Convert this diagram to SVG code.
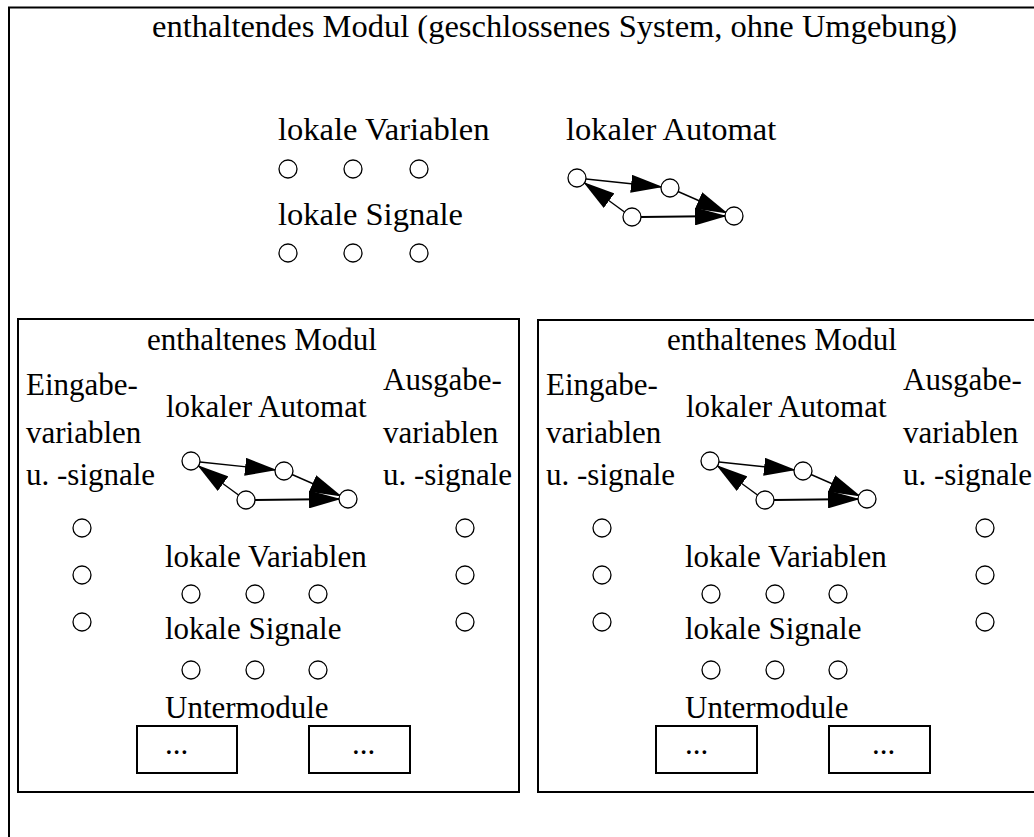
<svg xmlns="http://www.w3.org/2000/svg" xmlns:xlink="http://www.w3.org/1999/xlink" width="1034" height="837" viewBox="0 0 1034 837">
  <style>
    .frame { fill: none; stroke: #000; stroke-width: 2; }
    .state { fill: #fff; stroke: #000; stroke-width: 1.3; }
    .edge { fill: none; stroke: #000; stroke-width: 1.4; }
    .big { font-family: "Liberation Serif", "Times New Roman", serif; font-size: 32.5px; fill: #000; }
    .lbl { font-family: "Liberation Serif", "Times New Roman", serif; font-size: 31px; fill: #000; }
  </style>
  <defs>
    <marker id="arrow" markerUnits="userSpaceOnUse" markerWidth="32" markerHeight="18" refX="31" refY="9" orient="auto" viewBox="0 0 32 18">
      <path d="M0,0 L32,9 L0,18 Z" fill="#000"/>
    </marker>
    <!-- small state machine: four states, four transitions; origin = first state -->
    <g id="automat">
      <g class="transitions">
        <line class="edge" x1="9" y1="1" x2="85" y2="9" marker-end="url(#arrow)"/>
        <line class="edge" x1="101" y1="13.5" x2="150" y2="35" marker-end="url(#arrow)"/>
        <line class="edge" x1="47.5" y1="34" x2="7" y2="4.5" marker-end="url(#arrow)"/>
        <line class="edge" x1="64" y1="39" x2="149" y2="38" marker-end="url(#arrow)" style="stroke-width:2"/>
      </g>
      <g class="states">
        <circle class="state" cx="0" cy="0" r="9"/>
        <circle class="state" cx="93" cy="10" r="9"/>
        <circle class="state" cx="55" cy="39" r="9"/>
        <circle class="state" cx="157" cy="38" r="9"/>
      </g>
    </g>
    <circle id="dot" class="state" r="9"/>
  </defs>

  <rect width="1034" height="837" fill="#fff"/>

  <!-- outer module -->
  <g id="outer-module">
    <path class="frame" d="M9,840 V7.5 H1040"/>
    <text class="big" x="152" y="37">enthaltendes Modul (geschlossenes System, ohne Umgebung)</text>
    <text class="big" x="278" y="140">lokale Variablen</text>
    <use xlink:href="#dot" x="288" y="169"/>
    <use xlink:href="#dot" x="353" y="169"/>
    <use xlink:href="#dot" x="419" y="169"/>
    <text class="big" x="278" y="225">lokale Signale</text>
    <use xlink:href="#dot" x="288" y="253"/>
    <use xlink:href="#dot" x="353" y="253"/>
    <use xlink:href="#dot" x="419" y="253"/>
    <text class="big" x="566" y="140">lokaler Automat</text>
    <use xlink:href="#automat" transform="translate(577,178)"/>
  </g>

  <!-- contained module, left -->
  <g id="inner-module-left">
    <rect class="frame" x="18" y="319" width="501" height="473"/>
    <text class="lbl" x="147" y="350">enthaltenes Modul</text>
    <text class="lbl" x="26" y="395">Eingabe-</text>
    <text class="lbl" x="26" y="443">variablen</text>
    <text class="lbl" x="26" y="485">u. -signale</text>
    <text class="lbl" x="383" y="390">Ausgabe-</text>
    <text class="lbl" x="383" y="443">variablen</text>
    <text class="lbl" x="383" y="485">u. -signale</text>
    <text class="lbl" x="166" y="417">lokaler Automat</text>
    <use xlink:href="#automat" transform="translate(191,461)"/>
    <use xlink:href="#dot" x="82" y="528"/>
    <use xlink:href="#dot" x="82" y="575"/>
    <use xlink:href="#dot" x="82" y="622"/>
    <use xlink:href="#dot" x="465" y="528"/>
    <use xlink:href="#dot" x="465" y="575"/>
    <use xlink:href="#dot" x="465" y="622"/>
    <text class="lbl" x="165" y="567">lokale Variablen</text>
    <use xlink:href="#dot" x="191" y="594"/>
    <use xlink:href="#dot" x="255" y="594"/>
    <use xlink:href="#dot" x="318" y="594"/>
    <text class="lbl" x="165" y="639">lokale Signale</text>
    <use xlink:href="#dot" x="191" y="670"/>
    <use xlink:href="#dot" x="255" y="670"/>
    <use xlink:href="#dot" x="318" y="670"/>
    <text class="lbl" x="165" y="718">Untermodule</text>
    <rect class="frame" x="137" y="726" width="100" height="47"/>
    <text class="lbl" x="165" y="754">...</text>
    <rect class="frame" x="309" y="726" width="101" height="47"/>
    <text class="lbl" x="352" y="754">...</text>
  </g>

  <!-- contained module, right -->
  <g id="inner-module-right" transform="translate(520,0)">
    <rect class="frame" x="18" y="320" width="520" height="472"/>
    <text class="lbl" x="147" y="350">enthaltenes Modul</text>
    <text class="lbl" x="26" y="395">Eingabe-</text>
    <text class="lbl" x="26" y="443">variablen</text>
    <text class="lbl" x="26" y="485">u. -signale</text>
    <text class="lbl" x="383" y="390">Ausgabe-</text>
    <text class="lbl" x="383" y="443">variablen</text>
    <text class="lbl" x="383" y="485">u. -signale</text>
    <text class="lbl" x="166" y="417">lokaler Automat</text>
    <use xlink:href="#automat" transform="translate(190,461)"/>
    <use xlink:href="#dot" x="82" y="528"/>
    <use xlink:href="#dot" x="82" y="575"/>
    <use xlink:href="#dot" x="82" y="622"/>
    <use xlink:href="#dot" x="465" y="528"/>
    <use xlink:href="#dot" x="465" y="575"/>
    <use xlink:href="#dot" x="465" y="622"/>
    <text class="lbl" x="165" y="567">lokale Variablen</text>
    <use xlink:href="#dot" x="191" y="594"/>
    <use xlink:href="#dot" x="255" y="594"/>
    <use xlink:href="#dot" x="318" y="594"/>
    <text class="lbl" x="165" y="639">lokale Signale</text>
    <use xlink:href="#dot" x="191" y="670"/>
    <use xlink:href="#dot" x="255" y="670"/>
    <use xlink:href="#dot" x="318" y="670"/>
    <text class="lbl" x="165" y="718">Untermodule</text>
    <rect class="frame" x="136" y="726" width="101" height="47"/>
    <text class="lbl" x="165" y="754">...</text>
    <rect class="frame" x="309" y="726" width="101" height="47"/>
    <text class="lbl" x="352" y="754">...</text>
  </g>
</svg>
